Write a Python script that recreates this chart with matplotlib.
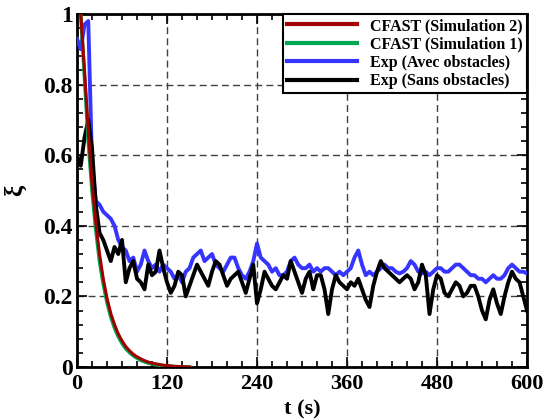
import numpy as np
import matplotlib
matplotlib.use("Agg")
import matplotlib.pyplot as plt
from matplotlib.ticker import MultipleLocator, FuncFormatter

# ---- data ----
t_cfast = [5, 10, 15, 20, 25, 30, 35, 40, 45, 50, 55, 60, 65, 70, 75, 80, 85, 90,
           95, 100, 105, 110, 115, 120, 130, 140, 150]
cfast_sim2 = [1.0, 0.84, 0.67, 0.52, 0.41, 0.32, 0.25, 0.195, 0.152, 0.12, 0.094,
              0.074, 0.058, 0.046, 0.036, 0.029, 0.023, 0.018, 0.014, 0.011, 0.009,
              0.007, 0.005, 0.004, 0.002, 0.001, 0.0]
cfast_sim1 = [1.0, 0.82, 0.64, 0.50, 0.39, 0.30, 0.235, 0.183, 0.142, 0.111, 0.086,
              0.067, 0.052, 0.041, 0.032, 0.025, 0.019, 0.015, 0.011, 0.009, 0.007,
              0.005, 0.004, 0.003, 0.001, 0.0, 0.0]

t_exp = list(range(0, 601, 5))
exp_avec = [0.93, 0.90, 0.97, 0.98, 0.58, 0.47, 0.46, 0.44, 0.43, 0.42, 0.40, 0.36,
            0.34, 0.33, 0.30, 0.31, 0.27, 0.29, 0.33, 0.30, 0.28, 0.29, 0.27, 0.29,
            0.28, 0.27, 0.25, 0.26, 0.24, 0.27, 0.28, 0.31, 0.32, 0.33, 0.30, 0.31,
            0.32, 0.29, 0.28, 0.27, 0.29, 0.31, 0.31, 0.28, 0.26, 0.25, 0.27, 0.30,
            0.35, 0.31, 0.30, 0.29, 0.27, 0.28, 0.26, 0.26, 0.27, 0.30, 0.31, 0.29,
            0.28, 0.28, 0.29, 0.27, 0.28, 0.27, 0.28, 0.28, 0.27, 0.26, 0.27, 0.26,
            0.27, 0.28, 0.31, 0.33, 0.29, 0.26, 0.27, 0.26, 0.27, 0.28, 0.29, 0.28,
            0.28, 0.27, 0.265, 0.27, 0.28, 0.30, 0.29, 0.27, 0.265, 0.27, 0.26, 0.27,
            0.28, 0.28, 0.27, 0.27, 0.28, 0.29, 0.29, 0.28, 0.27, 0.26, 0.26, 0.25,
            0.25, 0.24, 0.25, 0.26, 0.25, 0.25, 0.26, 0.28, 0.29, 0.28, 0.27, 0.27,
            0.265]
exp_sans = [0.60, 0.57, 0.65, 0.70, 0.62, 0.46, 0.38, 0.36, 0.33, 0.30, 0.34, 0.32,
            0.36, 0.24, 0.28, 0.30, 0.25, 0.24, 0.22, 0.29, 0.26, 0.27, 0.33, 0.28,
            0.24, 0.21, 0.23, 0.27, 0.26, 0.20, 0.23, 0.26, 0.29, 0.27, 0.25, 0.23,
            0.27, 0.30, 0.29, 0.26, 0.23, 0.25, 0.26, 0.27, 0.24, 0.21, 0.25, 0.29,
            0.18, 0.22, 0.27, 0.25, 0.23, 0.22, 0.24, 0.26, 0.25, 0.30, 0.27, 0.24,
            0.21, 0.25, 0.27, 0.22, 0.26, 0.26, 0.22, 0.15, 0.22, 0.26, 0.24, 0.23,
            0.22, 0.24, 0.23, 0.25, 0.22, 0.19, 0.17, 0.23, 0.27, 0.30, 0.28, 0.27,
            0.26, 0.25, 0.24, 0.25, 0.26, 0.25, 0.22, 0.24, 0.29, 0.26, 0.15, 0.22,
            0.26, 0.25, 0.21, 0.20, 0.22, 0.24, 0.23, 0.20, 0.21, 0.23, 0.23, 0.20,
            0.16, 0.135, 0.19, 0.22, 0.18, 0.15, 0.20, 0.24, 0.27, 0.25, 0.24, 0.20,
            0.16]

labels = ["CFAST (Simulation 2)", "CFAST (Simulation 1)",
          "Exp (Avec obstacles)", "Exp (Sans obstacles)"]
x_ticks = [0, 120, 240, 360, 480, 600]
y_ticks = [0, 0.2, 0.4, 0.6, 0.8, 1.0]

# ---- figure ----
plt.rcParams['font.family'] = ['Liberation Serif', 'DejaVu Serif']
plt.rcParams['font.weight'] = 'bold'

fig = plt.figure(figsize=(5.45, 4.2), dpi=100)
ax = fig.add_axes([0.1413, 0.1262, 0.8257, 0.8405])

c_red = '#a00000'
c_green = '#00a651'
c_blue = '#3535ff'
c_black = '#000000'

l3, = ax.plot(t_exp, exp_avec, color=c_blue, lw=2.8, label=labels[2], zorder=3)
l4, = ax.plot(t_exp, exp_sans, color=c_black, lw=2.8, label=labels[3], zorder=4)
l1, = ax.plot(t_cfast, cfast_sim2, color=c_red, lw=2.2, label=labels[0], zorder=5)
l2, = ax.plot(t_cfast, cfast_sim1, color=c_green, lw=2.6, label=labels[1], zorder=4.5)

ax.set_xlim(0, 600)
ax.set_ylim(0, 1)
ax.set_xticks(x_ticks)
ax.set_yticks(y_ticks)
ax.xaxis.set_minor_locator(MultipleLocator(20))
ax.yaxis.set_minor_locator(MultipleLocator(0.04))
ax.yaxis.set_major_formatter(FuncFormatter(lambda v, p: ('%g' % v)))

ax.tick_params(which='both', direction='in', top=True, right=True, width=1.2)
ax.tick_params(which='major', length=7)
ax.tick_params(which='minor', length=4)
ax.tick_params(axis='x', which='major', labelsize=16, pad=5)
ax.tick_params(axis='y', which='major', labelsize=17, pad=3)
for lab in ax.get_xticklabels() + ax.get_yticklabels():
    lab.set_fontweight('bold')

for s in ax.spines.values():
    s.set_linewidth(2)

ax.grid(True, which='major', color='#404040', linestyle=(0, (5, 3)), linewidth=1)
ax.set_axisbelow(True)

ax.set_xlabel('t (s)', fontsize=16, fontweight='bold', labelpad=4)
ax.set_ylabel('ξ', fontsize=18, fontweight='bold', labelpad=12)

leg = ax.legend(handles=[l1, l2, l3, l4], loc='upper right',
                prop={'weight': 'bold', 'size': 11.5},
                borderaxespad=0, borderpad=0.25, labelspacing=0.15,
                handlelength=4.4, handletextpad=0.8, fancybox=False,
                framealpha=1, edgecolor='black')
leg.get_frame().set_linewidth(1.5)
for h in leg.get_lines():
    h.set_linewidth(3)

fig.savefig('out.png', dpi=100)
